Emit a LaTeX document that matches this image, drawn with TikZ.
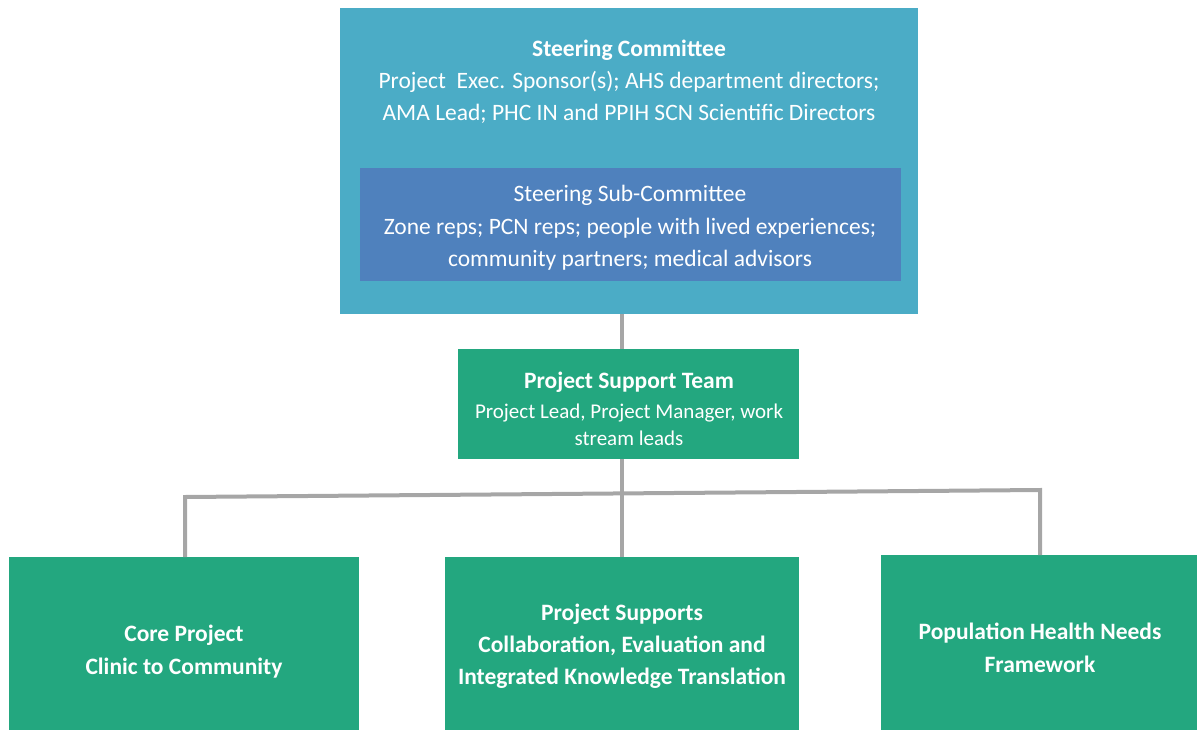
\documentclass[tikz,border=0pt]{standalone}
\usepackage{fontspec}
\setmainfont{Carlito}
\usetikzlibrary{calc}
\definecolor{scblue}{RGB}{75,172,198}
\definecolor{subblue}{RGB}{79,129,189}
\definecolor{tgreen}{RGB}{35,167,127}
\definecolor{lgray}{RGB}{166,166,166}
\begin{document}
\begin{tikzpicture}[x=1pt,y=-1pt,
  box/.style={draw=none, inner sep=0pt, anchor=north west},
  txt/.style={text=white, align=center, inner sep=0pt, anchor=base, font=\fontsize{23.5}{32.5}\selectfont},
  btxt/.style={txt, font=\fontsize{23.5}{32.5}\selectfont\bfseries},
  conn/.style={draw=lgray, line width=4pt}]
\useasboundingbox (0,0) rectangle (1198,730);
% boxes
\node[box, fill=scblue, minimum width=578pt, minimum height=306pt] (sc) at (340,8) {};
\node[box, fill=subblue, minimum width=541pt, minimum height=113pt] (sub) at (360,168) {};
\node[box, fill=tgreen, minimum width=341pt, minimum height=110pt] (pst) at (458,349) {};
\node[box, fill=tgreen, minimum width=350pt, minimum height=173pt] (core) at (9,557) {};
\node[box, fill=tgreen, minimum width=354pt, minimum height=173pt] (sup) at (445,557) {};
\node[box, fill=tgreen, minimum width=316pt, minimum height=175pt] (pop) at (881,555) {};
% texts
\node[btxt] (sct) at (629,57) {Steering Committee};
\node[txt] (sct2) at (629,89) {Project\ \ Exec. Sponsor(s); AHS department directors;};
\node[txt] (sct3) at (629,121) {AMA Lead; PHC IN and PPIH SCN Scientific Directors};
\node[txt] (subt) at (630,201) {Steering Sub-Committee};
\node[txt] (subt2) at (630,234) {Zone reps; PCN reps; people with lived experiences;};
\node[txt] (subt3) at (630,266) {community partners; medical advisors};
\node[btxt] (pstt) at (629,388) {Project Support Team};
\node[txt, font=\fontsize{21}{28}\selectfont] (pstt2) at (629,418) {Project Lead, Project Manager, work};
\node[txt, font=\fontsize{21}{28}\selectfont] (pstt3) at (629,445) {stream leads};
\node[btxt] (coret) at (184,674) {Core Project\\Clinic to Community};
\node[btxt] (supt) at (622,620) {Project Supports};
\node[btxt] (supt2) at (622,652) {Collaboration, Evaluation and};
\node[btxt] (supt3) at (622,684) {Integrated Knowledge Translation};
\node[btxt] (popt) at (1040,672) {Population Health Needs\\Framework};
% connectors
\coordinate (jl) at (185,497);
\coordinate (jm) at (622,494);
\coordinate (jr) at (1040,490);
\draw[conn] (sc.south -| jm) -- (pst.north -| jm);
\draw[conn] (pst.south -| jm) -- (jm);
\draw[conn] (core.north -| jl) -- (jl) -- (jr) -- (pop.north -| jr);
\draw[conn] (jm) -- (sup.north -| jm);
\end{tikzpicture}
\end{document}
